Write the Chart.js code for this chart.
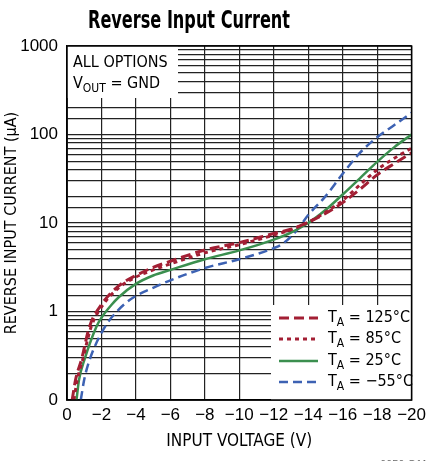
<!DOCTYPE html>
<html>
<head>
<meta charset="utf-8">
<script src="https://cdn.jsdelivr.net/npm/chart.js@4.4.1/dist/chart.umd.min.js"></script>
<style>
  html, body { margin: 0; padding: 0; background: #fff; }
</style>
</head>
<body>
<canvas id="chart" width="431" height="461"></canvas>
<script>
const NARROW = '"Liberation Sans Narrow", "DejaVu Sans Condensed", "Liberation Sans", sans-serif';
const SANS = '"Liberation Sans", Arial, sans-serif';

// readings, voltage (V) and current (uA)
const volts125 = [-0.3, -0.5, -0.85, -1.3, -2, -3, -4, -5, -6, -8, -10, -12, -13, -14, -15, -16, -17, -18, -19, -20];
const amps125 = [0.1, 0.17, 0.29, 0.67, 1.2, 1.95, 2.55, 3.15, 3.7, 4.95, 6.0, 7.6, 8.5, 10.2, 12.8, 17, 24, 35, 47, 62];

const volts85 = [-0.4, -0.6, -0.9, -1.4, -2.1, -3, -4, -5, -6, -8, -10, -12, -13, -14, -15, -16, -17, -18, -19, -20];
const amps85 = [0.1, 0.17, 0.28, 0.67, 1.2, 1.85, 2.45, 2.95, 3.45, 4.6, 5.7, 7.3, 8.4, 10.2, 13.2, 18, 27, 40, 54, 70];

const volts25 = [-0.55, -0.7, -1.0, -1.7, -2, -2.6, -3, -4, -5, -6, -8, -10, -12, -13, -14, -15, -16, -17, -18, -19, -20];
const amps25 = [0.1, 0.17, 0.28, 0.67, 0.85, 1.2, 1.45, 2.05, 2.55, 2.95, 3.9, 4.9, 6.5, 7.8, 10.0, 14, 21, 32, 49, 72, 100];

const voltsM55 = [-0.8, -1.0, -1.3, -2.2, -3, -3.4, -4, -5, -6, -8, -10, -12, -12.5, -13, -13.5, -14, -15, -16, -17, -18, -19, -20];
const ampsM55 = [0.1, 0.17, 0.28, 0.67, 1.05, 1.24, 1.5, 1.85, 2.25, 3.1, 3.9, 5.2, 5.8, 7.0, 9.1, 12.3, 20, 36, 62, 93, 128, 176];

const legendTemps = ['125°C', '85°C', '25°C', '\u221255°C'];
const yTickLabels = { '-1': '0', '0': '1', '1': '10', '2': '100', '3': '1000' };

function toPoints(xs, ys) {
  return xs.map((x, i) => ({ x: x, y: ys[i] }));
}

// T with subscript A etc.
function drawSubText(ctx, x, y, main, sub, rest, size) {
  ctx.font = size + 'px ' + NARROW;
  ctx.fillText(main, x, y);
  x += ctx.measureText(main).width;
  ctx.font = Math.round(size * 0.72) + 'px ' + NARROW;
  ctx.fillText(sub, x, y + size * 0.3);
  x += ctx.measureText(sub).width;
  ctx.font = size + 'px ' + NARROW;
  ctx.fillText(rest, x, y);
}

const titlePlugin = {
  id: 'pageTitle',
  afterDraw(chart) {
    const ctx = chart.ctx;
    ctx.save();
    ctx.fillStyle = '#000';
    ctx.textBaseline = 'alphabetic';
    ctx.font = 'bold 25px ' + NARROW;
    const w = ctx.measureText('Reverse Input Current').width;
    ctx.translate(88, 28);
    ctx.scale(202 / w, 1);
    ctx.fillText('Reverse Input Current', 0, 0);
    ctx.restore();

    ctx.save();
    ctx.fillStyle = '#666';
    ctx.font = '11px ' + SANS;
    ctx.fillText('6656 G11', 380, 468);
    ctx.restore();
  }
};

const boxesPlugin = {
  id: 'boxes',
  afterDatasetsDraw(chart) {
    const ctx = chart.ctx;
    const a = chart.chartArea;
    ctx.save();
    ctx.fillStyle = '#fff';
    // note box, top left
    ctx.fillRect(a.left, a.top, 178 - a.left, 98 - a.top);
    // legend box, bottom right
    ctx.fillRect(271, 305, a.right - 271, a.bottom - 305);

    ctx.fillStyle = '#000';
    ctx.textBaseline = 'middle';
    ctx.font = '16px ' + NARROW;
    ctx.fillText('ALL OPTIONS', 73, 63);
    drawSubText(ctx, 73, 84, 'V', 'OUT', ' = GND', 16);

    const rows = [318, 339, 361, 382];
    chart.data.datasets.forEach((ds, i) => {
      const y = rows[i];
      ctx.save();
      ctx.strokeStyle = ds.borderColor;
      ctx.lineWidth = ds.borderWidth;
      ctx.setLineDash(ds.borderDash || []);
      ctx.beginPath();
      ctx.moveTo(279, y);
      ctx.lineTo(318, y);
      ctx.stroke();
      ctx.restore();
      ctx.fillStyle = '#000';
      drawSubText(ctx, 328, y, 'T', 'A', ' = ' + legendTemps[i], 16);
    });

    // plot frame
    ctx.strokeStyle = '#000';
    ctx.lineWidth = 1.5;
    ctx.setLineDash([]);
    ctx.strokeRect(a.left, a.top, a.right - a.left, a.bottom - a.top);
    ctx.restore();
  }
};

const ctx = document.getElementById('chart').getContext('2d');
const chart = new Chart(ctx, {
  type: 'line',
  data: {
    datasets: [
      {
        label: 'TA = 125°C',
        data: toPoints(volts125, amps125),
        borderColor: '#a31f34',
        borderWidth: 3,
        borderDash: [10, 5],
      },
      {
        label: 'TA = 85°C',
        data: toPoints(volts85, amps85),
        borderColor: '#a31f34',
        borderWidth: 3,
        borderDash: [4, 4],
      },
      {
        label: 'TA = 25°C',
        data: toPoints(volts25, amps25),
        borderColor: '#3b8f4f',
        borderWidth: 2.5,
      },
      {
        label: 'TA = -55°C',
        data: toPoints(voltsM55, ampsM55),
        borderColor: '#3d62b3',
        borderWidth: 2.5,
        borderDash: [9, 5],
      },
    ],
  },
  options: {
    responsive: false,
    animation: false,
    layout: { padding: { top: 46, right: 13, left: 0, bottom: 9 } },
    elements: {
      point: { radius: 0 },
      line: { cubicInterpolationMode: 'monotone', fill: false },
    },
    plugins: {
      legend: { display: false },
      tooltip: { enabled: false },
    },
    scales: {
      x: {
        type: 'linear',
        min: -20,
        max: 0,
        reverse: true,
        border: { color: '#000', width: 1.5 },
        grid: { color: '#222', lineWidth: 1.2, drawTicks: false },
        ticks: {
          stepSize: 2,
          padding: 5,
          color: '#000',
          font: { family: SANS, size: 17 },
          callback: (v) => (v === 0 ? '0' : '\u2212' + Math.abs(v)),
        },
        title: {
          display: true,
          text: 'INPUT VOLTAGE (V)',
          color: '#000',
          font: { family: NARROW, size: 17 },
          padding: { top: 2, bottom: 0 },
        },
        afterFit: (s) => { s.height = 52; },
      },
      y: {
        type: 'logarithmic',
        min: 0.1,
        max: 1000,
        border: { color: '#000', width: 1.5 },
        grid: { color: '#222', lineWidth: 1.2, drawTicks: false },
        ticks: {
          autoSkip: false,
          padding: 9,
          color: '#000',
          font: { family: SANS, size: 17 },
          callback: (v) => {
            const l = Math.log10(v);
            const r = Math.round(l);
            return Math.abs(l - r) < 1e-6 ? yTickLabels[String(r)] : '';
          },
        },
        title: {
          display: true,
          text: 'REVERSE INPUT CURRENT (µA)',
          color: '#000',
          font: { family: NARROW, size: 16 },
          padding: { top: 2, bottom: 0 },
        },
        afterFit: (s) => { s.width = 67; },
      },
    },
  },
  plugins: [titlePlugin, boxesPlugin],
});
</script>
</body>
</html>
